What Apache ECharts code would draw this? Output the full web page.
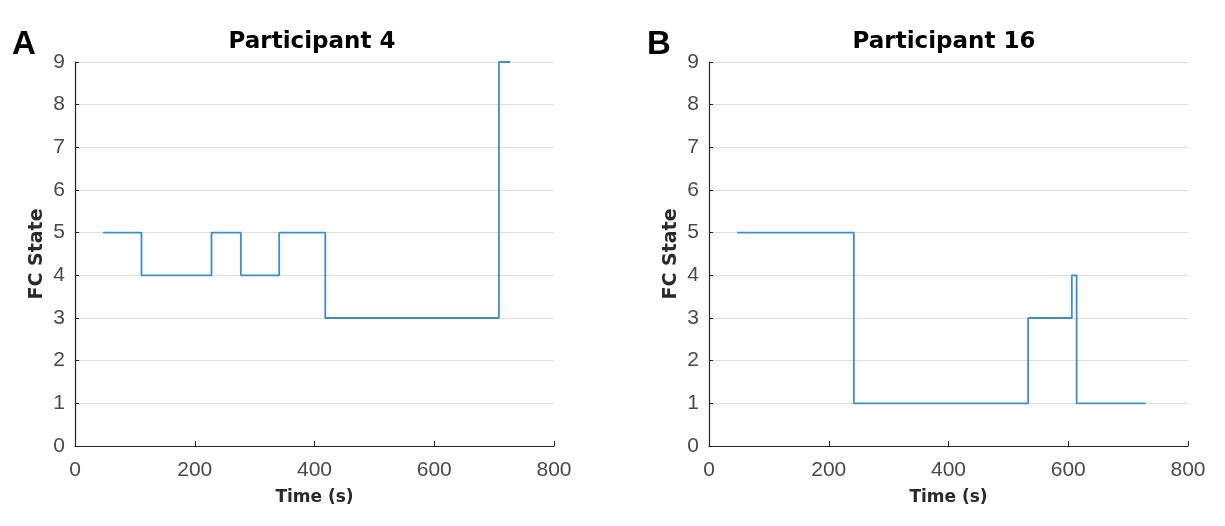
<!DOCTYPE html>
<html><head><meta charset="utf-8">
<script src="https://cdn.jsdelivr.net/npm/echarts@6/dist/echarts.min.js"></script>
<style>html,body{margin:0;padding:0;background:#fff}#c{width:1225px;height:526px}</style>
</head><body><div id="c"></div>
<script>
// Participant 4: state change times (s) and states
const p4Times  = [47, 111, 228, 277, 341, 418, 708, 727];
const p4States = [5, 4, 5, 4, 5, 3, 9, 9];
// Participant 16
const p16Times  = [47, 242, 533, 606, 614, 729];
const p16States = [5, 1, 3, 4, 1, 1];
const xTicks = [0, 200, 400, 600, 800];
const yTicks = [0, 1, 2, 3, 4, 5, 6, 7, 8, 9];
const titles = ['Participant 4', 'Participant 16'];
const panelLetters = ['A', 'B'];

const chart = echarts.init(document.getElementById('c'));
const font = '"Liberation Sans", Arial, Helvetica, sans-serif';
const boldFont = '"DejaVu Sans", sans-serif';
const lineColor = '#3a8fd2';

function pairs(t, s) { return t.map((v, i) => [v, s[i]]); }

const grids = [
  {left: 75, top: 62, width: 479, height: 384},
  {left: 709, top: 62, width: 479, height: 384}
];
function xAxis(i) {
  return {
    gridIndex: i, type: 'value', min: xTicks[0], max: xTicks[xTicks.length - 1], interval: xTicks[1] - xTicks[0],
    name: 'Time (s)', nameLocation: 'middle', nameGap: 43,
    nameTextStyle: {fontFamily: boldFont, fontWeight: 'bold', fontSize: 17, color: '#2a2a2a'},
    axisLine: {show: true, lineStyle: {color: '#222', width: 1.2}},
    axisTick: {show: true, inside: true, length: 5, lineStyle: {color: '#222'}},
    axisLabel: {fontFamily: font, fontSize: 21, color: '#4a4a4a', margin: 14},
    splitLine: {show: false}
  };
}
function yAxis(i) {
  return {
    gridIndex: i, type: 'value', min: yTicks[0], max: yTicks[yTicks.length - 1], interval: 1,
    name: 'FC State', nameLocation: 'middle', nameGap: 28, nameRotate: 90,
    nameTextStyle: {fontFamily: boldFont, fontWeight: 'bold', fontSize: 19, color: '#2a2a2a'},
    axisLine: {show: true, lineStyle: {color: '#222', width: 1.2}},
    axisTick: {show: true, inside: true, length: 4, lineStyle: {color: '#222'}},
    axisLabel: {fontFamily: font, fontSize: 21, color: '#4a4a4a', margin: 10},
    splitLine: {show: true, lineStyle: {color: '#dedede', width: 1}}
  };
}
const option = {
  animation: false,
  title: [
    {text: titles[0], left: 307, top: 26, textAlign: 'center', textStyle: {fontFamily: boldFont, fontWeight: 'bold', fontSize: 23, color: '#000'}},
    {text: titles[1], left: 939, top: 26, textAlign: 'center', textStyle: {fontFamily: boldFont, fontWeight: 'bold', fontSize: 23, color: '#000'}},
    {text: panelLetters[0], left: 7, top: 23, textStyle: {fontFamily: font, fontWeight: 'bold', fontSize: 33, color: '#000'}},
    {text: panelLetters[1], left: 642, top: 23, textStyle: {fontFamily: font, fontWeight: 'bold', fontSize: 33, color: '#000'}}
  ],
  grid: grids,
  xAxis: [xAxis(0), xAxis(1)],
  yAxis: [yAxis(0), yAxis(1)],
  series: [
    {type: 'line', xAxisIndex: 0, yAxisIndex: 0, step: 'end', data: pairs(p4Times, p4States),
     showSymbol: false, lineStyle: {color: lineColor, width: 1.8}},
    {type: 'line', xAxisIndex: 1, yAxisIndex: 1, step: 'end', data: pairs(p16Times, p16States),
     showSymbol: false, lineStyle: {color: lineColor, width: 1.8}}
  ]
};
chart.setOption(option);
</script></body></html>
